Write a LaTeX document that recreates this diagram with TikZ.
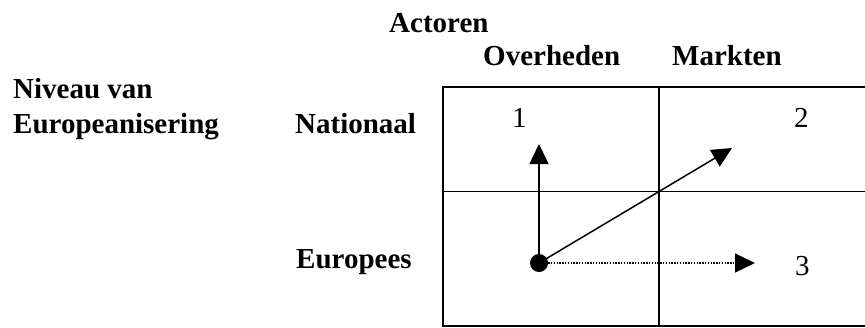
\documentclass[tikz,border=0pt]{standalone}
\usepackage{fontspec}
\setmainfont{Liberation Serif}
\usetikzlibrary{arrows.meta}
\begin{document}
\begin{tikzpicture}[x=1pt,y=-1pt,
  lbl/.style={anchor=base west,inner sep=0pt,font=\fontsize{29}{35}\selectfont\bfseries},
  num/.style={anchor=base west,inner sep=0pt,font=\fontsize{29}{35}\selectfont},
  outer/.style={line width=2pt},
  inner/.style={line width=1.6pt},
  arr/.style={line width=1.5pt,-{Triangle[length=20pt,width=19pt]}},
  dotarr/.style={line width=1.3pt,dash pattern=on 1.4pt off 1.4pt,-{Triangle[length=20pt,width=19pt]}}]
\useasboundingbox (0,0) rectangle (865,327);
% grid
\draw[outer] (867,87) -- (443,87) -- (443,326) -- (867,326);
\draw[inner] (443,191.5) -- (867,191.5);
\draw[inner] (659,87) -- (659,326);
% labels
\node[lbl] (actoren) at (389,32) {Actoren};
\node[lbl] (overheden) at (483,65) {Overheden};
\node[lbl] (markten) at (672,65) {Markten};
\node[lbl] (niveau) at (13,98) {Niveau van};
\node[lbl] (europeanisering) at (13,133) {Europeanisering};
\node[lbl] (nationaal) at (295,133) {Nationaal};
\node[lbl] (europees) at (296,268) {Europees};
\node[num] (n1) at (512,127) {1};
\node[num] (n2) at (794,127) {2};
\node[num] (n3) at (795,275) {3};
% arrows
\node[circle,fill=black,inner sep=0pt,minimum size=18pt] (dot) at (539,263) {};
\coordinate (up) at (539,144);
\coordinate (diag) at (732,148);
\coordinate (right) at (755,263);
\draw[arr] (dot.center) -- (up);
\draw[arr] (dot.center) -- (diag);
\draw[dotarr] (dot.east) -- (right);
\end{tikzpicture}
\end{document}
